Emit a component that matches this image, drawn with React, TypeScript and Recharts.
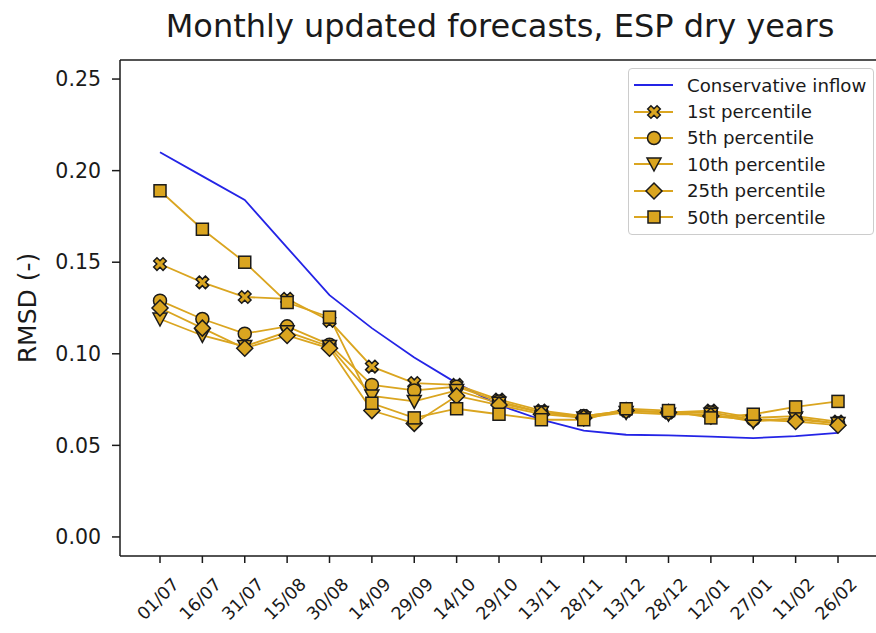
import { LineChart, Line, XAxis, YAxis, ReferenceLine } from 'recharts';

const dates = [
  '01/07', '16/07', '31/07', '15/08', '30/08', '14/09', '29/09', '14/10', '29/10',
  '13/11', '28/11', '13/12', '28/12', '12/01', '27/01', '11/02', '26/02',
];

const conservative = [0.210, 0.197, 0.184, 0.158, 0.132, 0.114, 0.098, 0.084, 0.072, 0.064, 0.058, 0.0558, 0.0555, 0.0548, 0.054, 0.055, 0.0568];
const p1 = [0.149, 0.139, 0.131, 0.130, 0.118, 0.093, 0.084, 0.083, 0.075, 0.069, 0.066, 0.069, 0.068, 0.069, 0.065, 0.066, 0.063];
const p5 = [0.129, 0.119, 0.111, 0.115, 0.105, 0.083, 0.080, 0.082, 0.074, 0.068, 0.066, 0.069, 0.068, 0.068, 0.064, 0.064, 0.062];
const p10 = [0.119, 0.110, 0.104, 0.112, 0.104, 0.077, 0.074, 0.080, 0.073, 0.068, 0.065, 0.068, 0.067, 0.067, 0.063, 0.065, 0.062];
const p25 = [0.125, 0.114, 0.103, 0.110, 0.103, 0.069, 0.062, 0.077, 0.072, 0.067, 0.065, 0.069, 0.068, 0.066, 0.064, 0.063, 0.061];
const p50 = [0.189, 0.168, 0.150, 0.128, 0.120, 0.073, 0.065, 0.070, 0.067, 0.064, 0.064, 0.070, 0.069, 0.065, 0.067, 0.071, 0.074];

const yTicks = [0, 0.05, 0.1, 0.15, 0.2, 0.25];

const GOLD = '#daa520';
const BLUE = '#2424e6';
const INK = '#1a1a1a';
const FONT = '"DejaVu Sans", sans-serif';

const data = dates.map((d, i) => ({
  date: d,
  conservative: conservative[i],
  p1: p1[i],
  p5: p5[i],
  p10: p10[i],
  p25: p25[i],
  p50: p50[i],
}));

type Shape = 'x' | 'circle' | 'triangle' | 'diamond' | 'square';

const series: { key: string; name: string; shape: Shape }[] = [
  { key: 'p1', name: '1st percentile', shape: 'x' },
  { key: 'p5', name: '5th percentile', shape: 'circle' },
  { key: 'p10', name: '10th percentile', shape: 'triangle' },
  { key: 'p25', name: '25th percentile', shape: 'diamond' },
  { key: 'p50', name: '50th percentile', shape: 'square' },
];

// filled "X" marker: a plus sign turned by 45 degrees
function xPoints(cx: number, cy: number) {
  const a = 2.3, b = 6.6;
  const pts = [
    [-a, -b], [a, -b], [a, -a], [b, -a], [b, a], [a, a],
    [a, b], [-a, b], [-a, a], [-b, a], [-b, -a], [-a, -a],
  ];
  const c = Math.SQRT1_2;
  return pts
    .map(([px, py]) => `${cx + (px - py) * c},${cy + (px + py) * c}`)
    .join(' ');
}

function Marker({ shape, cx, cy }: { shape: Shape; cx: number; cy: number }) {
  const common = { fill: GOLD, stroke: INK, strokeWidth: 1.5 };
  switch (shape) {
    case 'square':
      return <rect x={cx - 6} y={cy - 6} width={12} height={12} {...common} />;
    case 'circle':
      return <circle cx={cx} cy={cy} r={6.5} {...common} />;
    case 'triangle':
      return <polygon points={`${cx - 7},${cy - 6} ${cx + 7},${cy - 6} ${cx},${cy + 7}`} {...common} />;
    case 'diamond':
      return <polygon points={`${cx},${cy - 8} ${cx + 8},${cy} ${cx},${cy + 8} ${cx - 8},${cy}`} {...common} />;
    default:
      return <polygon points={xPoints(cx, cy)} {...common} />;
  }
}

const XTick = ({ x, y, payload }: any) => (
  <g transform={`translate(${x - 2},${y + 34})`}>
    <text
      transform="rotate(-45)"
      textAnchor="middle"
      dominantBaseline="central"
      fontSize={17.5}
      fontFamily={FONT}
      fill={INK}
    >
      {payload.value}
    </text>
  </g>
);

function LegendBox() {
  const rows = [{ name: 'Conservative inflow', shape: null as Shape | null }, ...series];
  return (
    <div
      style={{
        position: 'absolute',
        left: 628,
        top: 68,
        width: 244,
        padding: '3px 0 4px 0',
        border: '1px solid #cccccc',
        borderRadius: 4,
        background: 'rgba(255,255,255,0.85)',
        fontFamily: FONT,
        fontSize: 18.2,
        color: INK,
      }}
    >
      {rows.map((r) => (
        <div key={r.name} style={{ display: 'flex', alignItems: 'center', height: 26.4 }}>
          <svg width={58} height={20} style={{ flex: 'none' }}>
            <line x1={5} x2={44} y1={10} y2={10} stroke={r.shape ? GOLD : BLUE} strokeWidth={2} />
            {r.shape && <Marker shape={r.shape} cx={25} cy={10} />}
          </svg>
          <span style={{ whiteSpace: 'nowrap' }}>{r.name}</span>
        </div>
      ))}
    </div>
  );
}

export default function App() {
  return (
    <div
      style={{
        position: 'absolute',
        left: 0,
        top: 0,
        width: 876,
        height: 633,
        overflow: 'hidden',
        background: '#fff',
      }}
    >
      <div
        style={{
          position: 'absolute',
          left: 0,
          width: 1000,
          top: 7,
          textAlign: 'center',
          fontFamily: FONT,
          fontSize: 32,
          color: INK,
          whiteSpace: 'nowrap',
        }}
      >
        Monthly updated forecasts, ESP dry years
      </div>
      <div
        style={{
          position: 'absolute',
          left: 27,
          top: 308,
          transform: 'translate(-50%, -50%) rotate(-90deg)',
          fontFamily: FONT,
          fontSize: 25,
          color: INK,
          whiteSpace: 'nowrap',
        }}
      >
        RMSD (-)
      </div>
      <LineChart
        width={900}
        height={633}
        data={data}
        margin={{ top: 60, right: 22, bottom: 0, left: 0 }}
        style={{ position: 'absolute', left: 0, top: 0 }}
      >
        <XAxis
          dataKey="date"
          height={77}
          padding={{ left: 40, right: 40 }}
          interval={0}
          tickSize={7}
          axisLine={{ stroke: INK, strokeWidth: 1.5 }}
          tickLine={{ stroke: INK, strokeWidth: 1.5 }}
          tick={<XTick />}
        />
        <YAxis
          width={120}
          type="number"
          domain={[-0.0104, 0.2604]}
          allowDataOverflow
          ticks={yTicks}
          tickFormatter={(v: number) => v.toFixed(2)}
          tickSize={8}
          tickMargin={11}
          axisLine={{ stroke: INK, strokeWidth: 1.5 }}
          tickLine={{ stroke: INK, strokeWidth: 1.5 }}
          tick={{ fontSize: 20.5, fontFamily: FONT, fill: INK }}
        />
        <ReferenceLine y={0.2604} stroke={INK} strokeWidth={1.5} />
        <Line
          dataKey="conservative"
          stroke={BLUE}
          strokeWidth={1.8}
          dot={false}
          isAnimationActive={false}
        />
        {series.map((s) => (
          <Line
            key={s.key}
            dataKey={s.key}
            stroke={GOLD}
            strokeWidth={1.8}
            isAnimationActive={false}
            dot={(p: any) => <Marker key={`${s.key}-${p.index}`} shape={s.shape} cx={p.cx} cy={p.cy} />}
            activeDot={false}
          />
        ))}
      </LineChart>
      <LegendBox />
    </div>
  );
}
